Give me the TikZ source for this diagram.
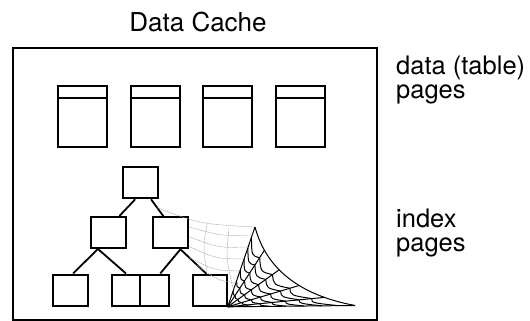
\documentclass[tikz,border=0pt]{standalone}
\usepackage{fontspec}
\setmainfont{TeX Gyre Heros}
\usetikzlibrary{calc}

\tikzset{
  datapage/.style={draw, line width=2pt, minimum width=49pt, minimum height=61pt, inner sep=0pt},
  ixpage/.style={draw, line width=2pt, minimum width=35pt, minimum height=31pt, inner sep=0pt},
  link/.style={line width=1.8pt},
  thread/.style={line width=1pt},
  backthread/.style={gray!70, line width=0.5pt, dash pattern=on 1.4pt off 0.7pt},
  sidetext/.style={font=\fontsize{25.5}{24}\selectfont, align=left, anchor=base west, inner sep=0pt}
}

\begin{document}
\begin{tikzpicture}[x=1pt, y=-1pt]
  \useasboundingbox (0,0) rectangle (530,321);

  % cache frame and captions
  \node[font=\fontsize{26}{26}\selectfont, anchor=base, inner sep=0pt] (title) at (198,32) {Data Cache};
  \draw[line width=1.5pt] (13,48) rectangle (377,320);
  \node[sidetext] (datalbl) at (396,98) {data (table)\\pages};
  \node[sidetext] (indexlbl) at (396,251) {index\\pages};

  % table pages with their header strip
  \foreach \x [count=\n] in {82.4,155,227.5,300.7} {
    \node[datapage] (dp\n) at (\x,116.5) {};
    \draw[line width=2pt] ($(dp\n.north west)+(0,13)$) -- ($(dp\n.north east)+(0,13)$);
  }

  % index tree
  \node[ixpage] (root) at (140.7,182.8) {};
  \node[ixpage] (midl) at (108.7,232.5) {};
  \node[ixpage] (midr) at (170.8,232.8) {};
  \node[ixpage] (leafa) at (70.8,290) {};
  \node[ixpage, minimum width=28pt] (leafb) at (126,290) {};
  \node[ixpage, minimum width=29.3pt] (leafc) at (154.6,290) {};
  \node[ixpage, minimum width=34pt] (leafd) at (209.7,290.3) {};

  \draw[link] ($(root.south west)!0.35!(root.south east)$) -- ($(midl.north west)!0.79!(midl.north east)$);
  \draw[link] ($(root.south west)!0.78!(root.south east)$) coordinate (rtop)
    -- ($(midr.north west)!0.3!(midr.north east)$) coordinate (rbot);
  \draw[link] ($(midl.south west)!0.21!(midl.south east)$) -- ($(leafa.north west)!0.56!(leafa.north east)$);
  \draw[link] ($(midl.south west)!0.21!(midl.south east)$) -- ($(leafb.north west)!0.5!(leafb.north east)$);
  \draw[link] ($(midr.south west)!0.76!(midr.south east)$) coordinate (mtop)
    -- ($(leafc.north west)!0.68!(leafc.north east)$);
  \draw[link] ($(midr.south west)!0.76!(midr.south east)$)
    -- ($(leafd.north west)!0.41!(leafd.north east)$) coordinate (mbot);

  % cobweb spun from the last leaf
  \coordinate (hub) at (leafd.south east);
  \coordinate (webtop) at (255,227);
  \coordinate (webbend) at (272,290);
  \coordinate (webend) at (355,305.5);
  \draw[thread] (webtop) .. controls ($(webtop)!0.667!(webbend)$) and ($(webend)!0.667!(webbend)$) .. (webend);
  \foreach \t [count=\i from 0] in {0,0.2,0.4,0.6,0.8,1} {
    \pgfmathsetmacro\ta{(1-\t)*(1-\t)}
    \pgfmathsetmacro\tb{2*\t*(1-\t)}
    \pgfmathsetmacro\tc{\t*\t}
    \coordinate (rim\i) at ($\ta*(webtop)+\tb*(webbend)+\tc*(webend)$);
    \draw[thread] (hub) -- (rim\i);
  }
  \foreach \r in {0.2,0.33,0.46,0.6,0.74,0.87} {
    \foreach \i [evaluate=\i as \j using int(\i+1)] in {0,...,4} {
      \coordinate (u) at ($(hub)!\r!(rim\i)$);
      \coordinate (v) at ($(hub)!\r!(rim\j)$);
      \coordinate (mid) at ($(u)!0.5!(v)$);
      \coordinate (sag) at ($(hub)!0.86!(mid)$);
      \draw[thread] (u) .. controls (sag) .. (v);
    }
  }

  % faint threads behind the tree
  \coordinate (backstart) at ($(rtop)!0.5!(rbot)$);
  \draw[backthread] (backstart) .. controls (200,224) .. (webtop);
  \foreach \fl/\fr/\dy in {0.32/0.9/5, 0.62/0.75/6, 0.92/0.6/6} {
    \coordinate (bl) at ($(midr.north east)!\fl!(midr.south east)$);
    \coordinate (br) at ($(hub)!\fr!(webtop)$);
    \draw[backthread] (bl) .. controls ($($(bl)!0.5!(br)$)+(0,\dy)$) .. (br);
  }
  \foreach \fl/\fr in {0.35/0.45, 0.65/0.3} {
    \coordinate (bl) at ($(mtop)!\fl!(mbot)$);
    \coordinate (br) at ($(hub)!\fr!(webtop)$);
    \draw[backthread] (bl) .. controls ($($(bl)!0.5!(br)$)+(0,6)$) .. (br);
  }
  \draw[backthread] (207,224) .. controls (203,248) .. (207,272);
  \draw[backthread] (229,228) .. controls (226,258) .. (233,288);
\end{tikzpicture}
\end{document}
